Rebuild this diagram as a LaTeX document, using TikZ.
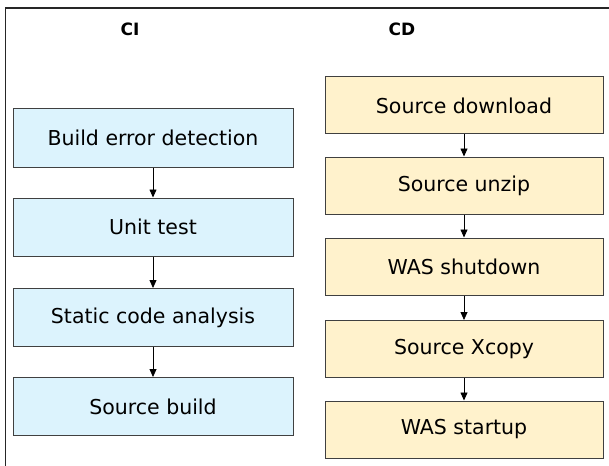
\documentclass[tikz,border=0pt]{standalone}
\usepackage{fontspec}
\setmainfont{DejaVu Sans}
\usetikzlibrary{arrows.meta}
\definecolor{cifill}{RGB}{220,243,253}
\definecolor{cdfill}{RGB}{255,242,204}
\definecolor{boxline}{RGB}{64,64,64}
\tikzset{
  cibox/.style={draw=boxline, line width=1pt, fill=cifill, minimum width=280pt, minimum height=58pt, inner sep=0pt, font=\fontsize{20.5pt}{23pt}\selectfont},
  cdbox/.style={draw=boxline, line width=1pt, fill=cdfill, minimum width=278pt, minimum height=57pt, inner sep=0pt, font=\fontsize{20.5pt}{23pt}\selectfont},
  heading/.style={font=\fontsize{17pt}{20pt}\selectfont\bfseries, inner sep=0pt},
  flow/.style={-{Triangle[width=7pt,length=8pt]}, line width=0.8pt, black}
}
\begin{document}
\begin{tikzpicture}[x=1pt,y=-1pt]
\useasboundingbox (0,0) rectangle (609,465);
\fill[white] (0,0) rectangle (609,465);
\draw[line width=1.3pt, black!85] (5.5,470) -- (5.5,8) -- (615,8);
\node[heading] (ci) at (130,29) {CI};
\node[heading] (cd) at (402,29) {CD};
\node[cibox] (c1) at (153,138) {Build error detection};
\node[cibox] (c2) at (153,227) {Unit test};
\node[cibox] (c3) at (153,317.5) {Static code analysis};
\node[cibox] (c4) at (153,406.5) {Source build};
\node[cdbox] (d1) at (464,105.5) {Source download};
\node[cdbox] (d2) at (464,185.5) {Source unzip};
\node[cdbox] (d3) at (464,266.5) {WAS shutdown};
\node[cdbox] (d4) at (464,349) {Source Xcopy};
\node[cdbox] (d5) at (464,429.5) {WAS startup};
\draw[flow] (c1) -- (c2);
\draw[flow] (c2) -- (c3);
\draw[flow] (c3) -- (c4);
\draw[flow] (d1) -- (d2);
\draw[flow] (d2) -- (d3);
\draw[flow] (d3) -- (d4);
\draw[flow] (d4) -- (d5);
\end{tikzpicture}
\end{document}
